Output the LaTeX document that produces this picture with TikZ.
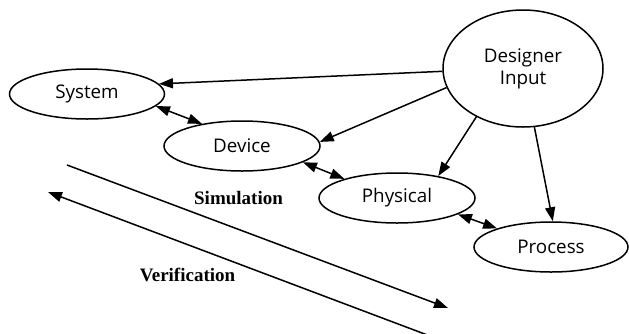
\documentclass[tikz,border=0pt]{standalone}
\usepackage{fontspec}
\setmainfont{Liberation Serif}
\newfontfamily\nodefont{Open Sans}
\usetikzlibrary{shapes.geometric,arrows.meta}
\begin{document}
\begin{tikzpicture}[x=1pt,y=-1pt,
  every node/.style={inner sep=0pt},
  oval/.style={ellipse,draw,line width=1.5pt,font=\nodefont\fontsize{18.8}{22}\selectfont,align=center},
  tip/.style={Triangle[length=14pt,width=10pt]},
  conn/.style={line width=1.5pt,-{Triangle[length=14pt,width=10pt]}},
  biconn/.style={line width=1.5pt,{Triangle[length=14pt,width=10pt]}-{Triangle[length=14pt,width=10pt]}},
  lbl/.style={font=\bfseries\fontsize{19}{22}\selectfont,anchor=base}]
\useasboundingbox (0,0) rectangle (629,333);
\node[oval,minimum width=160pt,minimum height=117pt] (des) at (523,68.5) {Designer\\Input};
\node[oval,minimum width=155pt,minimum height=50pt] (sys) at (87,94) {System};
\node[oval,minimum width=156pt,minimum height=50pt] (dev) at (242,146) {Device};
\node[oval,minimum width=156pt,minimum height=50pt] (phy) at (397,198) {Physical};
\node[oval,minimum width=154pt,minimum height=50pt] (pro) at (551,247) {Process};
\draw[conn] (des.182) -- (sys.8);
\draw[conn] (des.194) -- (dev.3);
\draw[conn] (des.226) -- (phy.28);
\draw[conn] (des.281) -- (pro.86);
\draw[biconn] (sys.350) -- (dev.151);
\draw[biconn] (dev.345) -- (phy.160);
\draw[biconn] (phy.345) -- (pro.161);
\coordinate (s1) at (67,165);
\coordinate (s2) at (448,308);
\coordinate (v1) at (430,336);
\coordinate (v2) at (48,192);
\draw[conn] (s1) -- (s2);
\draw[conn] (v1) -- (v2);
\node[lbl] (sim) at (238.5,204.3) {Simulation};
\node[lbl] (ver) at (187.5,281) {Verification};
\end{tikzpicture}
\end{document}
